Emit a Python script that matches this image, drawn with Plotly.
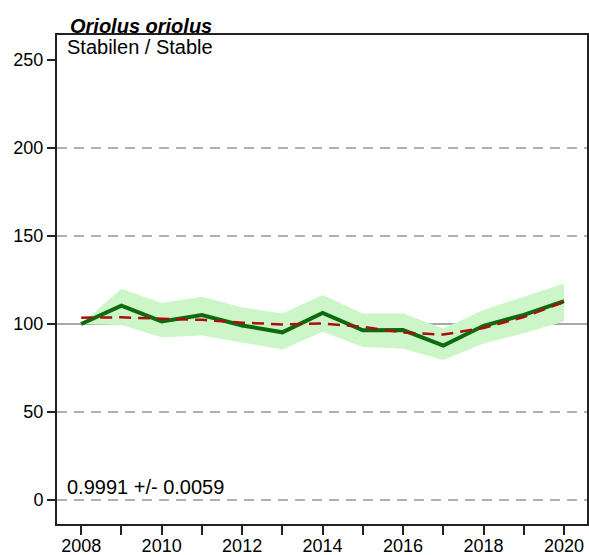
import plotly.graph_objects as go

# Population index for Oriolus oriolus, 2008-2020
years = list(range(2008, 2021))
index = [100, 110.4, 101.5, 105.1, 99.2, 95.3, 106.3, 96.4, 96.6, 87.8, 99.0, 105.2, 113.0]
upper = [100, 120.0, 112.0, 115.5, 109.5, 106.0, 116.5, 106.0, 106.0, 97.5, 108.0, 115.5, 123.0]
lower = [100, 99.5, 92.5, 93.5, 89.5, 85.5, 95.6, 87.0, 86.0, 79.5, 89.0, 94.7, 101.5]
trend = [103.6, 103.8, 103.0, 102.4, 100.8, 99.8, 100.3, 98.4, 95.2, 94.0, 97.8, 104.0, 112.5]

grid_values = [0, 50, 150, 200]
baseline = 100
y_ticks = [0, 50, 100, 150, 200, 250]
label_years = [y for y in years if y % 2 == 0]

species = "Oriolus oriolus"
status = "Stabilen / Stable"
slope_text = "0.9991 +/- 0.0059"

FONT = "Liberation Sans, Arial, sans-serif"
X_RANGE = [2007.4, 2020.57]

fig = go.Figure()

# Confidence band
fig.add_trace(go.Scatter(x=years, y=upper, mode="lines", line=dict(width=0),
                         hoverinfo="skip", showlegend=False))
fig.add_trace(go.Scatter(x=years, y=lower, mode="lines", line=dict(width=0),
                         fill="tonexty", fillcolor="rgba(204,246,200,1)",
                         hoverinfo="skip", showlegend=False))

# Dashed grid lines and solid baseline
for v in grid_values:
    fig.add_shape(type="line", xref="paper", x0=0, x1=1, yref="y", y0=v, y1=v,
                  line=dict(color="#b0b0b0", width=2, dash="10px,7px"), layer="below")
fig.add_shape(type="line", xref="paper", x0=0, x1=1, yref="y", y0=baseline, y1=baseline,
              line=dict(color="#a8a8a8", width=2), layer="below")

# Index line
fig.add_trace(go.Scatter(x=years, y=index, mode="lines",
                         line=dict(color="#0d6b0d", width=4), showlegend=False))
# Trend line
fig.add_trace(go.Scatter(x=years, y=trend, mode="lines",
                         line=dict(color="#a81010", width=2.5, dash="12px,7px"),
                         showlegend=False))
# Invisible carrier trace for the labelled year axis
fig.add_trace(go.Scatter(x=label_years, y=[None] * len(label_years), xaxis="x2",
                         mode="lines", hoverinfo="skip", showlegend=False))

fig.add_annotation(x=0, y=1, xref="paper", yref="paper", xanchor="left", yanchor="bottom",
                   text="<b><i>" + species + "</i></b>", showarrow=False,
                   xshift=11, yshift=-4,
                   font=dict(family=FONT, size=20, color="black"))
fig.add_annotation(x=0, y=1, xref="paper", yref="paper", xanchor="left", yanchor="top",
                   text=status, showarrow=False, xshift=8, yshift=1,
                   font=dict(family=FONT, size=20, color="black"))
fig.add_annotation(x=0, y=0, xref="paper", yref="y", xanchor="left", yanchor="bottom",
                   text=slope_text, showarrow=False, xshift=8, yshift=0,
                   font=dict(family=FONT, size=20, color="black"))

fig.update_layout(
    width=589, height=555,
    margin=dict(l=57, r=2, t=35, b=31),
    paper_bgcolor="white", plot_bgcolor="white",
    font=dict(family=FONT, size=18, color="black"),
    xaxis=dict(range=X_RANGE, tickvals=years, showticklabels=False,
               ticks="outside", ticklen=9, tickwidth=2, tickcolor="#222",
               automargin=False,
               showgrid=False, zeroline=False, showline=True, linecolor="#222",
               linewidth=2, mirror=True, fixedrange=True),
    xaxis2=dict(range=X_RANGE, tickvals=label_years, overlaying="x", side="bottom",
                anchor="y", ticks="outside", ticklen=5, tickcolor="rgba(0,0,0,0)",
                tickfont=dict(size=18), automargin=False,
                showgrid=False, zeroline=False, showline=False, fixedrange=True),
    yaxis=dict(range=[-13.6, 264.2], tickvals=y_ticks,
               ticks="outside", ticklen=8, tickwidth=2, tickcolor="#222",
               tickfont=dict(size=18), automargin=False,
               showgrid=False, zeroline=False, showline=True, linecolor="#222",
               linewidth=2, mirror=True, fixedrange=True),
)

fig.write_html("out.html")
